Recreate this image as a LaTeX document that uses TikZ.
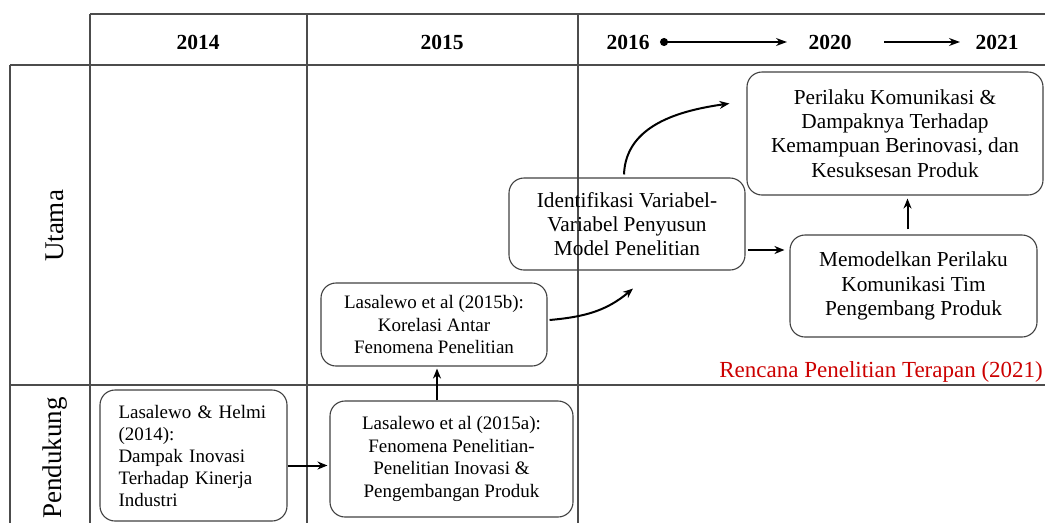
\documentclass[tikz,border=0pt]{standalone}
\usepackage{fontspec}
\setmainfont{Liberation Serif}
\usetikzlibrary{arrows.meta}
\begin{document}
\begin{tikzpicture}[x=1pt,y=1pt,
  grid/.style={draw=black!70,line width=1.1pt},
  box/.style={draw=black!75,line width=1.1pt,rounded corners=15pt,
    align=center,inner sep=2pt,font=\fontsize{19}{22.7}\selectfont},
  bigbox/.style={box,font=\fontsize{21.3}{24.4}\selectfont},
  year/.style={font=\fontsize{21.5}{24}\selectfont\bfseries},
  rowlabel/.style={rotate=90,font=\fontsize{27}{30}\selectfont},
  arr/.style={line width=2pt,-{Stealth[length=10pt,width=8pt]}},
  harr/.style={line width=1.3pt,-{Stealth[length=11pt,width=8pt]}}]
\useasboundingbox (0,0) rectangle (1045,-523);
\clip (0,0) rectangle (1045,-523);

% table lines
\draw[grid] (90,-14) -- (1045,-14);
\draw[grid] (10,-65) -- (1045,-65);
\draw[grid] (10,-385) -- (1045,-385);
\draw[grid] (10,-65) -- (10,-523);
\draw[grid] (90,-14) -- (90,-523);
\draw[grid] (307,-14) -- (307,-523);
\draw[grid] (578,-14) -- (578,-523);

% header
\node[year] (y2014) at (198,-42) {2014};
\node[year] (y2015) at (442,-42) {2015};
\node[year] (y2016) at (628,-42) {2016};
\node[year] (y2020) at (830,-42) {2020};
\node[year] (y2021) at (997,-42) {2021};
\draw[harr,{Circle[length=8pt]}-{Stealth[length=11pt,width=8pt]}]
  ([xshift=7pt]y2016.east) -- ([xshift=-18pt]y2020.west);
\draw[harr] ([xshift=29pt]y2020.east) -- ([xshift=-12pt]y2021.west);

% row labels
\node[rowlabel] (utama) at (55,-226) {Utama};
\node[rowlabel] (pendukung) at (55,-458) {Pendukung};

% boxes
\node[box,minimum width=187pt,minimum height=131pt,text width=150pt,align=left,
  font=\fontsize{19}{22}\selectfont]
  (b1) at (193.5,-455.5) {Lasalewo \& Helmi\\(2014):\\Dampak Inovasi\\Terhadap Kinerja\\Industri};
\node[box,minimum width=243pt,minimum height=116pt]
  (b2) at (451.5,-459) {Lasalewo et al (2015a):\\Fenomena Penelitian-\\Penelitian Inovasi \&\\Pengembangan Produk};
\node[box,minimum width=226pt,minimum height=83pt]
  (b3) at (434,-324.5) {Lasalewo et al (2015b):\\Korelasi Antar\\Fenomena Penelitian};
\node[bigbox,minimum width=236pt,minimum height=92pt]
  (b4) at (627,-224) {Identifikasi Variabel-\\Variabel Penyusun\\Model Penelitian};
\node[bigbox,minimum width=296pt,minimum height=123pt]
  (b5) at (895,-133.5) {Perilaku Komunikasi \&\\Dampaknya Terhadap\\Kemampuan Berinovasi, dan\\Kesuksesan Produk};
\node[bigbox,minimum width=247pt,minimum height=102pt]
  (b6) at (913.5,-286) {Memodelkan Perilaku\\Komunikasi Tim\\Pengembang Produk};

\node[text=red!80!black,font=\fontsize{23}{26}\selectfont,anchor=east,inner sep=1pt]
  (plan) at (1044,-372) {Rencana Penelitian Terapan (2021)};

% connectors
\draw[arr,shorten >=2pt] ([yshift=-10pt]b1.east) -- ([yshift=-10pt]b1.east -| b2.west);
\draw[arr,shorten >=2pt] ([xshift=3pt]b3.south |- b2.north) -- ([xshift=3pt]b3.south);
\draw[arr] ([xshift=2pt,yshift=4.5pt]b3.east) to[out=5,in=-140]
  ([xshift=6pt,yshift=-18pt]b4.south);
\draw[arr] ([xshift=-3pt,yshift=3pt]b4.north) to[out=88,in=188]
  ([xshift=-17pt,yshift=30pt]b5.west);
\draw[arr,shorten >=5pt] ([xshift=2pt,yshift=-26pt]b4.east) -- ([yshift=-26pt]b4.east -| b6.west);
\draw[arr,shorten <=5pt,shorten >=3pt] ([xshift=-6pt]b6.north) -- ([xshift=-6pt]b6.north |- b5.south);
\end{tikzpicture}
\end{document}
